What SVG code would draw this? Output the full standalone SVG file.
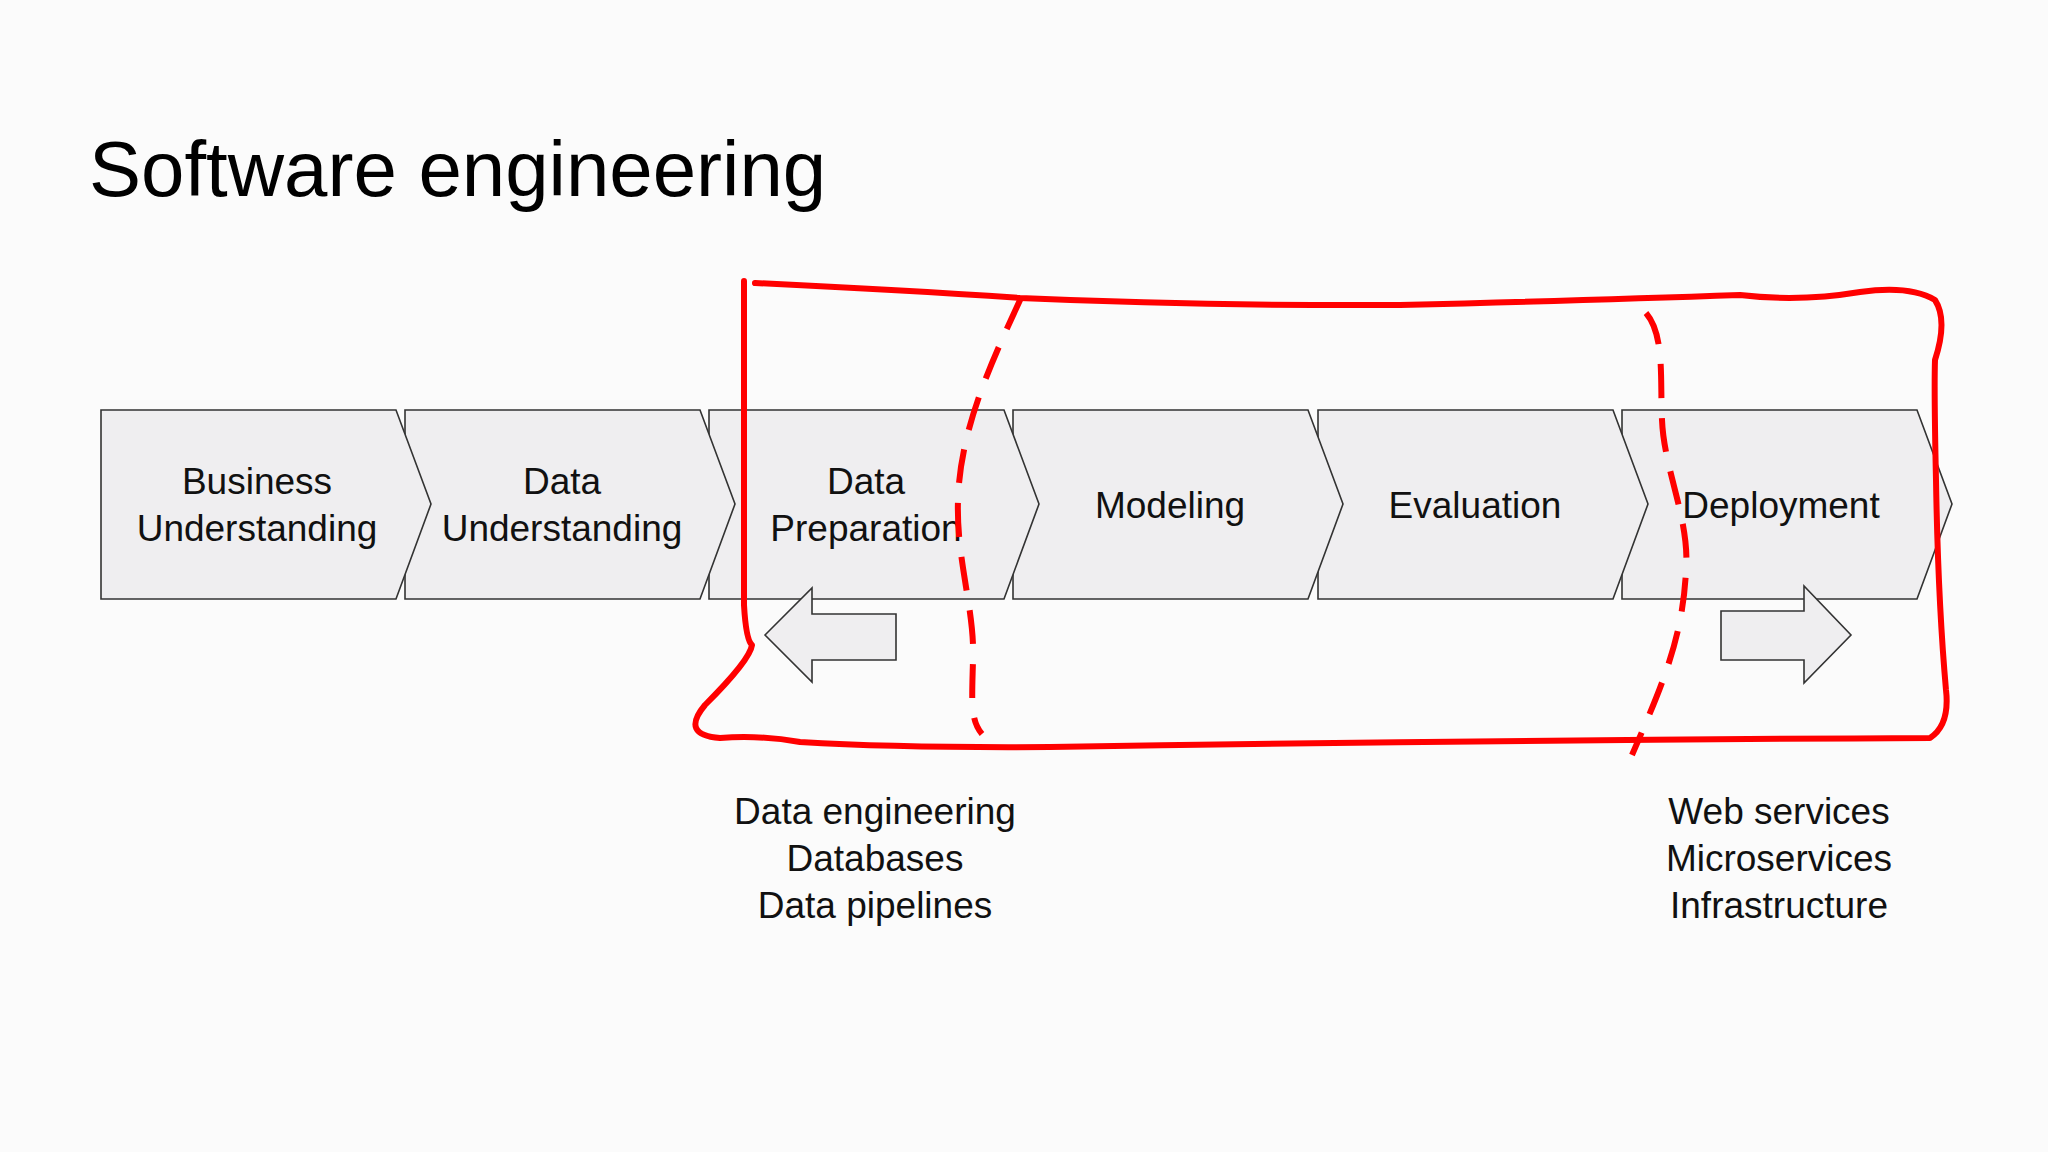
<svg xmlns="http://www.w3.org/2000/svg" width="2048" height="1152" viewBox="0 0 2048 1152">
<style>
.c{fill:#efeef0;stroke:#333;stroke-width:1.6}
.t{font-family:"Liberation Sans",Arial,sans-serif;font-size:37px;fill:#111;text-anchor:middle}
.r{fill:none;stroke:#f00;stroke-width:6;stroke-linecap:round;stroke-linejoin:round}
.d{stroke-dasharray:34 20;stroke-linecap:butt}
</style>
<rect width="2048" height="1152" fill="#fbfbfb"/>
<text x="89" y="196" font-family="Liberation Sans,Arial,sans-serif" font-size="78" fill="#000">Software engineering</text>
<g id="n6"><polygon class="c" points="1622,410 1917,410 1952,504 1917,599 1622,599"/><text class="t" x="1781" y="518">Deployment</text></g>
<g id="n5"><polygon class="c" points="1318,410 1613,410 1648,504 1613,599 1318,599"/><text class="t" x="1475" y="518">Evaluation</text></g>
<g id="n4"><polygon class="c" points="1013,410 1308,410 1343,504 1308,599 1013,599"/><text class="t" x="1170" y="518">Modeling</text></g>
<g id="n3"><polygon class="c" points="709,410 1004,410 1039,504 1004,599 709,599"/><text class="t" x="866" y="494">Data</text><text class="t" x="866" y="541">Preparation</text></g>
<g id="n2"><polygon class="c" points="405,410 700,410 735,504 700,599 405,599"/><text class="t" x="562" y="494">Data</text><text class="t" x="562" y="541">Understanding</text></g>
<g id="n1"><polygon class="c" points="101,410 396,410 431,504 396,599 101,599"/><text class="t" x="257" y="494">Business</text><text class="t" x="257" y="541">Understanding</text></g>
<g id="a1"><polygon class="c" points="765,635 812,588 812,614 896,614 896,660 812,660 812,682"/></g>
<g id="a2"><polygon class="c" points="1721,611 1804,611 1804,586 1851,635 1804,683 1804,660 1721,660"/></g>
<g id="l1"><text class="t" x="875" y="824">Data engineering</text><text class="t" x="875" y="871">Databases</text><text class="t" x="875" y="918">Data pipelines</text></g>
<g id="l2"><text class="t" x="1779" y="824">Web services</text><text class="t" x="1779" y="871">Microservices</text><text class="t" x="1779" y="918">Infrastructure</text></g>
<g id="connectors">
<path class="r" d="M744,281 L744,605 Q746,640 752,645 Q750,660 705,705 Q680,735 720,738 Q760,735 800,742 Q900,748 1050,747 Q1500,740 1930,738 Q1950,725 1946,690 Q1938,600 1936,480 Q1934,390 1935,360 Q1948,320 1935,300 Q1910,285 1860,292 Q1800,302 1740,295 Q1600,300 1400,305 Q1200,306 1020,298 Q900,290 755,283"/>
<path class="r d" d="M1021,298 C990,365 960,430 958,500 C956,560 975,610 973,660 C972,700 970,720 982,734"/>
<path class="r d" d="M1646,313 C1665,335 1660,380 1662,420 C1664,470 1690,520 1686,570 C1683,640 1660,690 1632,755"/>
</g>
</svg>
